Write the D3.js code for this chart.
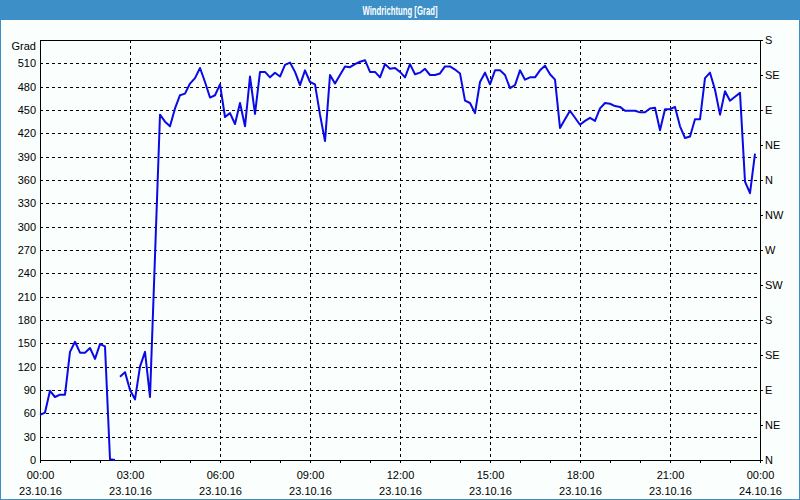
<!DOCTYPE html>
<html>
<head>
<meta charset="UTF-8" />
<title>Windrichtung [Grad]</title>
<script src="https://cdn.jsdelivr.net/npm/d3@7"></script>
<style>
  body { margin: 0; background: #fff; }
  svg { display: block; }
</style>
</head>
<body>
<div id="chart"></div>
<script>
// 10-minute readings of 23.10.16, null = gap in the record
const times = [
  '00:00','00:10','00:20','00:30','00:40','00:50','01:00','01:10','01:20','01:30','01:40','01:50',
  '02:00','02:10','02:20','02:30','02:35','02:40','02:50','03:00','03:10','03:20','03:30','03:40','03:50',
  '04:00','04:10','04:20','04:30','04:40','04:50','05:00','05:10','05:20','05:30','05:40','05:50',
  '06:00','06:10','06:20','06:30','06:40','06:50','07:00','07:10','07:20','07:30','07:40','07:50',
  '08:00','08:10','08:20','08:30','08:40','08:50','09:00','09:10','09:20','09:30','09:40','09:50',
  '10:00','10:10','10:20','10:30','10:40','10:50','11:00','11:10','11:20','11:30','11:40','11:50',
  '12:00','12:10','12:20','12:30','12:40','12:50','13:00','13:10','13:20','13:30','13:40','13:50',
  '14:00','14:10','14:20','14:30','14:40','14:50','15:00','15:10','15:20','15:30','15:40','15:50',
  '16:00','16:10','16:20','16:30','16:40','16:50','17:00','17:10','17:20','17:30','17:40','17:50',
  '18:00','18:10','18:20','18:30','18:40','18:50','19:00','19:10','19:20','19:30','19:40','19:50',
  '20:00','20:10','20:20','20:30','20:40','20:50','21:00','21:10','21:20','21:30','21:40','21:50',
  '22:00','22:10','22:20','22:30','22:40','22:50','23:00','23:10','23:20','23:30','23:40','23:50'
];
const degrees = [
  58, 61, 89, 81, 84, 84, 139, 152, 138, 138, 144, 130,
  149, 146, 1, 0, null, 107, 113, 90, 78, 120, 139, 81, 262,
  444, 435, 429, 452, 469, 471, 484, 491, 504, 486, 466, 469,
  483, 441, 446, 432, 459, 429, 493, 445, 499, 499, 492, 498,
  493, 508, 511, 499, 482, 501, 486, 483, 444, 410, 495, 484,
  495, 506, 505, 509, 512, 514, 499, 499, 492, 509, 503, 504,
  499, 492, 509, 496, 498, 503, 495, 495, 497, 506, 506, 502,
  497, 462, 459, 446, 486, 498, 483, 501, 501, 495, 478, 482,
  501, 489, 492, 492, 501, 507, 496, 489, 427, 438, 449, 440,
  431, 436, 440, 436, 452, 459, 458, 455, 454, 449, 449, 449,
  447, 447, 452, 453, 424, 451, 451, 454, 429, 414, 416, 438,
  438, 491, 498, 476, 444, 474, 462, 467, 472, 358, 343, 394
];

const gradTicks = [0, 30, 60, 90, 120, 150, 180, 210, 240, 270, 300, 330, 360, 390, 420, 450, 480, 510];
const compassTicks = [0, 45, 90, 135, 180, 225, 270, 315, 360, 405, 450, 495, 540];
const compassLabels = ['N', 'NE', 'E', 'SE', 'S', 'SW', 'W', 'NW', 'N', 'NE', 'E', 'SE', 'S'];
const hourLabels = ['00:00', '03:00', '06:00', '09:00', '12:00', '15:00', '18:00', '21:00', '00:00'];
const dateLabels = ['23.10.16', '23.10.16', '23.10.16', '23.10.16', '23.10.16', '23.10.16', '23.10.16', '23.10.16', '24.10.16'];

const W = 800, H = 500;
const pLeft = 40, pRight = 760, pTop = 40, pBottom = 460;
const font = '"Liberation Sans", Arial, sans-serif';
const blue = '#3c8fc7';

const parse = d3.timeParse('%d.%m.%y %H:%M');
const data = times.map((t, i) => ({ t: parse('23.10.16 ' + t), v: degrees[i] }));
const labelDates = hourLabels.map((h, i) => parse(dateLabels[i] + ' ' + h));

const x = d3.scaleTime()
    .domain([labelDates[0], labelDates[labelDates.length - 1]])
    .range([pLeft, pRight]);
const y = d3.scaleLinear()
    .domain([0, 540])
    .range([pBottom, pTop]);

const svg = d3.select('#chart')
    .append('svg')
    .attr('width', W)
    .attr('height', H)
    .style('font-family', font)
    .style('font-size', '11px');

// background + title bar
svg.append('rect').attr('width', W).attr('height', H).attr('fill', '#fafefc');
svg.append('rect').attr('width', W).attr('height', 20).attr('fill', blue);
svg.append('rect')
    .attr('x', 0.5).attr('y', 0.5)
    .attr('width', W - 1).attr('height', H - 1)
    .attr('fill', 'none').attr('stroke', blue);
svg.append('text')
    .attr('x', W / 2).attr('y', 14.5)
    .attr('text-anchor', 'middle')
    .attr('fill', '#fff')
    .attr('font-weight', 'bold')
    .attr('font-size', 12)
    .attr('textLength', 75)
    .attr('lengthAdjust', 'spacingAndGlyphs')
    .text('Windrichtung [Grad]');

// dashed grid
const grid = svg.append('g')
    .attr('stroke', '#000')
    .attr('stroke-dasharray', '3,3')
    .attr('shape-rendering', 'crispEdges');
grid.selectAll('.h')
    .data(gradTicks.filter(d => d > 0))
    .join('line')
    .attr('class', 'h')
    .attr('x1', pLeft).attr('x2', pRight)
    .attr('y1', d => Math.round(y(d)) + 0.5)
    .attr('y2', d => Math.round(y(d)) + 0.5);
grid.selectAll('.v')
    .data(labelDates.slice(1, -1))
    .join('line')
    .attr('class', 'v')
    .attr('y1', pTop).attr('y2', pBottom)
    .attr('x1', d => Math.round(x(d)) + 0.5)
    .attr('x2', d => Math.round(x(d)) + 0.5);

// left axis (Grad)
const yAxisL = svg.append('g')
    .attr('transform', `translate(${pLeft},0)`)
    .call(d3.axisLeft(y).tickValues(gradTicks).tickSize(0).tickPadding(4));
yAxisL.select('.domain').remove();
yAxisL.attr('font-family', font).attr('font-size', 11);

svg.append('text')
    .attr('x', 36).attr('y', 50)
    .attr('text-anchor', 'end')
    .text('Grad');

// right axis (compass)
const yAxisR = svg.append('g')
    .attr('transform', `translate(${pRight},0)`)
    .call(d3.axisRight(y).tickValues(compassTicks).tickFormat((d, i) => compassLabels[i]).tickSize(3).tickPadding(2));
yAxisR.select('.domain').remove();
yAxisR.attr('font-family', font).attr('font-size', 11);

// bottom: hourly minor ticks
const xMinor = svg.append('g')
    .attr('transform', `translate(0,${pBottom})`)
    .attr('shape-rendering', 'crispEdges')
    .call(d3.axisBottom(x).ticks(d3.timeHour.every(1)).tickSize(3).tickFormat(''));
xMinor.select('.domain').remove();

// bottom: time + date labels
const xAxis = svg.append('g')
    .attr('transform', `translate(0,${pBottom})`)
    .call(d3.axisBottom(x).tickValues(labelDates).tickSize(0).tickFormat(''));
xAxis.select('.domain').remove();
xAxis.attr('font-family', font).attr('font-size', 11);
xAxis.selectAll('.tick').append('text')
    .attr('fill', '#000').attr('y', 19)
    .text((d, i) => hourLabels[i]);
xAxis.selectAll('.tick').append('text')
    .attr('fill', '#000').attr('y', 35)
    .text((d, i) => dateLabels[i]);

// plot frame
svg.append('rect')
    .attr('x', pLeft + 0.5).attr('y', pTop + 0.5)
    .attr('width', pRight - pLeft).attr('height', pBottom - pTop)
    .attr('fill', 'none').attr('stroke', '#000')
    .attr('shape-rendering', 'crispEdges');

// wind direction line
const line = d3.line()
    .defined(d => d.v !== null)
    .x(d => x(d.t))
    .y(d => y(d.v));

svg.append('path')
    .datum(data)
    .attr('fill', 'none')
    .attr('stroke', '#0a0ae6')
    .attr('stroke-width', 2)
    .attr('stroke-linejoin', 'round')
    .attr('d', line);
</script>
</body>
</html>
